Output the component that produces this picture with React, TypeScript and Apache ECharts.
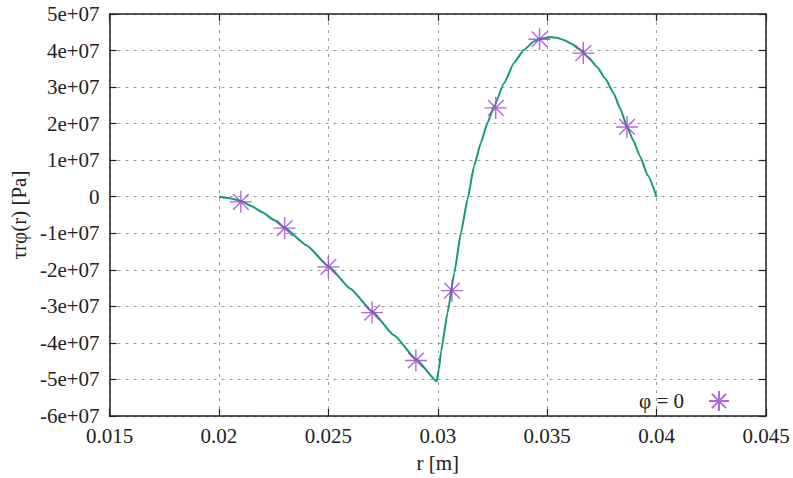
import React, { useEffect, useRef } from 'react';
import * as echarts from 'echarts';

// markers (phi = 0)
const rMarkers = [0.021, 0.023, 0.025, 0.027, 0.029, 0.03065, 0.03265, 0.03465, 0.03665, 0.03865];
const tauMarkers = [-0.14e7, -0.86e7, -1.92e7, -3.17e7, -4.48e7, -2.57e7, 2.43e7, 4.31e7, 3.93e7, 1.91e7];

// continuous curve
const rCurve = [0.0200, 0.0205, 0.0210, 0.0215, 0.0220, 0.0225, 0.0230, 0.0240, 0.0250, 0.0260, 0.0270, 0.0280, 0.0290,
  0.02995, 0.03005, 0.03015, 0.03045, 0.03076, 0.03106, 0.03136, 0.03166, 0.03197, 0.03227, 0.03257, 0.03303,
  0.03348, 0.03394, 0.03439, 0.03470, 0.03500, 0.03515, 0.03545, 0.03575, 0.03613, 0.03651, 0.03689, 0.03727,
  0.03765, 0.03803, 0.03834, 0.03864, 0.03894, 0.03924, 0.03960, 0.04000];
const tauCurve = [0, -0.04e7, -0.12e7, -0.26e7, -0.43e7, -0.63e7, -0.85e7, -1.33e7, -1.90e7, -2.51e7, -3.14e7, -3.79e7, -4.44e7,
  -5.05e7, -4.72e7, -4.24e7, -3.16e7, -2.07e7, -0.98e7, -0.07e7, 0.84e7, 1.48e7, 2.02e7, 2.47e7, 3.11e7,
  3.66e7, 4.02e7, 4.25e7, 4.32e7, 4.36e7, 4.37e7, 4.35e7, 4.29e7, 4.18e7, 4.02e7, 3.81e7, 3.56e7,
  3.24e7, 2.84e7, 2.41e7, 1.93e7, 1.53e7, 1.11e7, 0.58e7, 0];

const xMin = 0.015, xMax = 0.045, xStep = 0.005;
const yMin = -6e7, yMax = 5e7, yStep = 1e7;

const STAR = 'path://M10,0L10,20M0,10L20,10M2.9,2.9L17.1,17.1M2.9,17.1L17.1,2.9';
const SERIF = 'Liberation Serif';
const SERIES_NAME = 'φ = 0';

export default function App() {
  const ref = useRef<HTMLDivElement>(null);
  useEffect(() => {
    if (!ref.current) return;
    const chart = echarts.init(ref.current, null, { renderer: 'svg' });
    const mkAxisLine = () => ({ show: true, onZero: false, lineStyle: { color: '#222', width: 1.5 } });
    const mkTick = () => ({ show: true, inside: true, length: 7, lineStyle: { color: '#222', width: 1.2 } });
    const mkGrid = () => ({ show: true, lineStyle: { color: '#999', width: 1, type: [3, 5] } });
    chart.setOption({
      animation: false,
      grid: { left: 107, right: 27, top: 14, bottom: 60 },
      legend: {
        show: true,
        data: [SERIES_NAME],
        right: 58,
        bottom: 61,
        align: 'right',
        itemWidth: 20,
        itemHeight: 20,
        itemGap: 0,
        textStyle: { fontFamily: SERIF, fontSize: 21, color: '#222', padding: [0, 20, 0, 0] },
      },
      xAxis: [
        {
          type: 'value', min: xMin, max: xMax, interval: xStep, position: 'bottom',
          axisLine: mkAxisLine(), axisTick: mkTick(), splitLine: mkGrid(),
          axisLabel: {
            fontFamily: SERIF, fontSize: 21, color: '#222', margin: 9,
            formatter: (v: number) => String(Number(v.toFixed(4))),
          },
          name: 'r [m]', nameLocation: 'middle', nameGap: 36,
          nameTextStyle: { fontFamily: SERIF, fontSize: 21, color: '#222' },
        },
        {
          type: 'value', min: xMin, max: xMax, interval: xStep, position: 'top',
          axisLine: mkAxisLine(), axisTick: mkTick(), splitLine: { show: false }, axisLabel: { show: false },
        },
      ],
      yAxis: [
        {
          type: 'value', min: yMin, max: yMax, interval: yStep, position: 'left',
          axisLine: mkAxisLine(), axisTick: mkTick(), splitLine: mkGrid(),
          axisLabel: {
            fontFamily: SERIF, fontSize: 21, color: '#222', margin: 10,
            formatter: (v: number) => {
              const k = Math.round(v / 1e7);
              return k === 0 ? '0' : `${k}e+07`;
            },
          },
          name: 'τrφ(r) [Pa]', nameLocation: 'middle', nameGap: 70, nameRotate: 90,
          nameTextStyle: { fontFamily: SERIF, fontSize: 21, color: '#222' },
        },
        {
          type: 'value', min: yMin, max: yMax, interval: yStep, position: 'right',
          axisLine: mkAxisLine(), axisTick: mkTick(), splitLine: { show: false }, axisLabel: { show: false },
        },
      ],
      series: [
        {
          name: 'curve',
          type: 'line',
          data: rCurve.map((r, i) => [r, tauCurve[i]]),
          showSymbol: false,
          symbol: 'none',
          smooth: 0.15,
          smoothMonotone: 'x',
          lineStyle: { color: '#14987a', width: 2 },
          z: 3,
        },
        {
          name: SERIES_NAME,
          type: 'scatter',
          data: rMarkers.map((r, i) => [r, tauMarkers[i]]),
          symbol: STAR,
          symbolSize: 22,
          itemStyle: { color: 'rgba(0,0,0,0)', borderColor: '#a040d0', borderWidth: 1.4 },
          z: 4,
        },
      ],
    });
    return () => chart.dispose();
  }, []);
  return <div ref={ref} style={{ position: 'absolute', left: 0, top: 0, width: 793, height: 478 }} />;
}
